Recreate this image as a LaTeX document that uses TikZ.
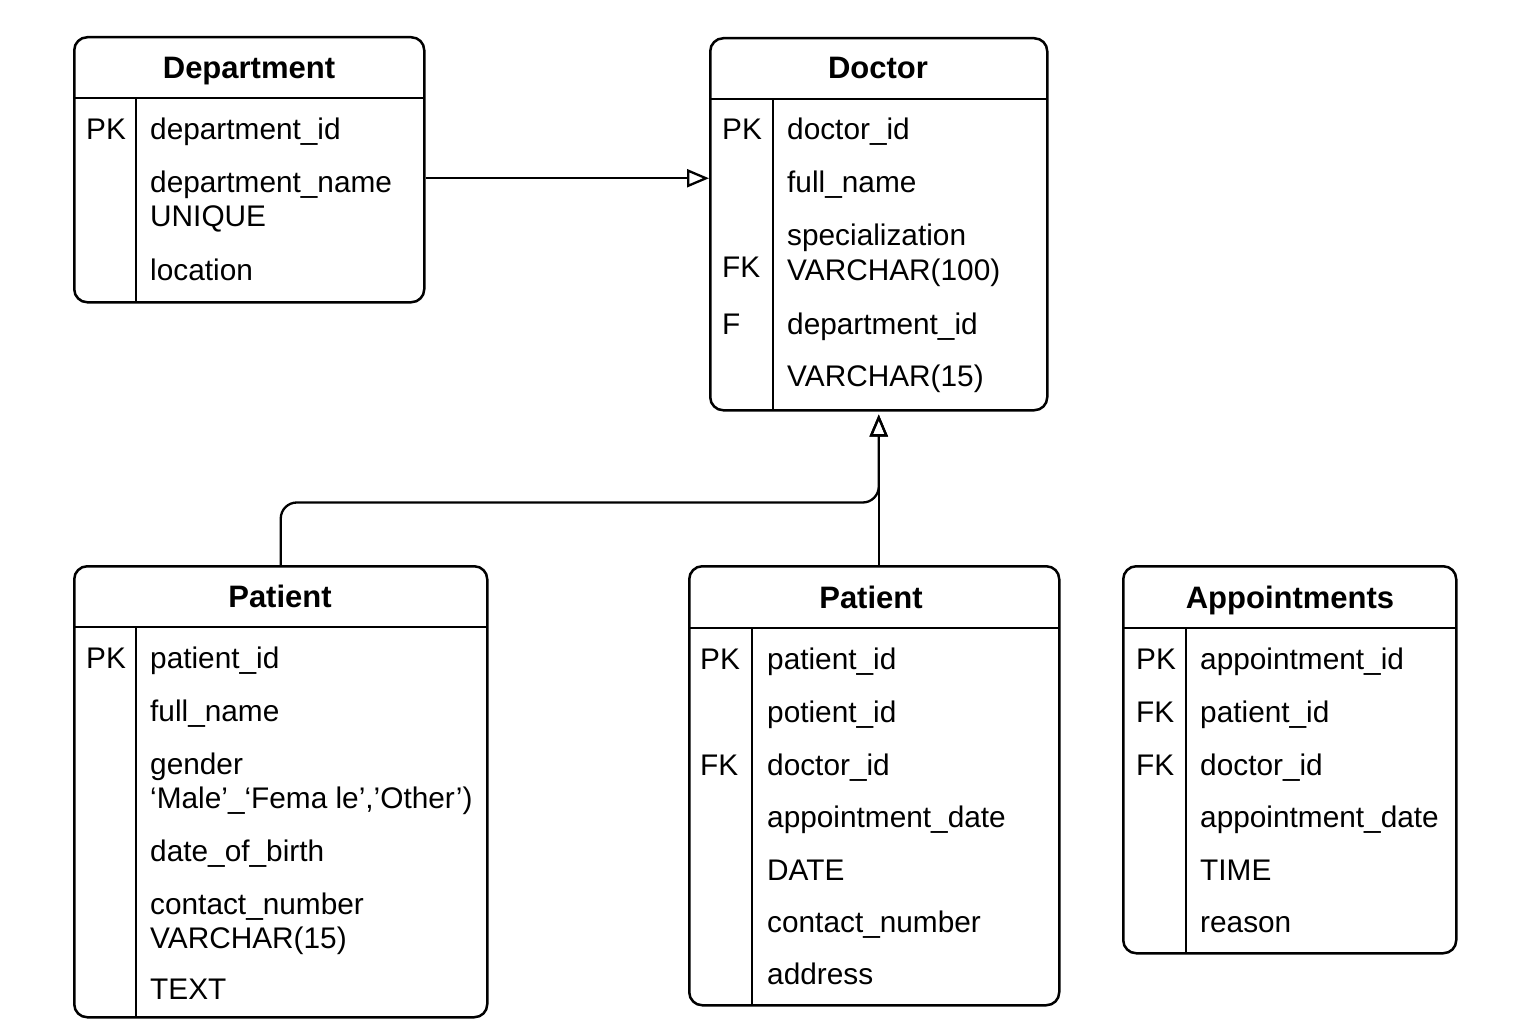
\documentclass[tikz,border=0pt]{standalone}
\usepackage{fontspec}
\setmainfont{Liberation Sans}
\usetikzlibrary{arrows.meta}
\tikzset{
  tbl/.style={draw, line width=2.5pt, rounded corners=13pt, inner sep=0pt, anchor=north west},
  sepline/.style={line width=2.2pt},
  ttl/.style={font=\fontsize{31}{36}\selectfont\bfseries, anchor=base, inner sep=0pt},
  cell/.style={font=\fontsize{29.8}{34}\selectfont, anchor=base west, inner sep=0pt},
  conn/.style={line width=2.3pt, -{Triangle[open, length=22pt, width=18pt, line width=2.3pt]}}
}
\begin{document}
\begin{tikzpicture}[x=1pt,y=-1pt]
\useasboundingbox[fill=white] (0,0) rectangle (1536,1024);

% ---------- Department ----------
\node[tbl, minimum width=350pt, minimum height=265pt] (dep) at (73,36) {};
\draw[sepline] (73,98) -- (423,98);
\draw[sepline] (136,98) -- (136,301);
\node[ttl] (depT) at (249,79) {Department};
\node[cell] (depK1) at (86,140) {PK};
\node[cell] (depR1) at (150,140) {department\_id};
\node[cell] (depR2) at (150,193) {department\_name};
\node[cell] (depR2b) at (150,227) {UNIQUE};
\node[cell] (depR3) at (150,280) {location};

% ---------- Doctor ----------
\node[tbl, minimum width=337pt, minimum height=372pt] (doc) at (709,37) {};
\draw[sepline] (709,99) -- (1046,99);
\draw[sepline] (773,99) -- (773,409);
\node[ttl] (docT) at (878,79) {Doctor};
\node[cell] (docK1) at (722,140) {PK};
\node[cell] (docK3) at (722,277) {FK};
\node[cell] (docK4) at (722,334) {F};
\node[cell] (docR1) at (787,140) {doctor\_id};
\node[cell] (docR2) at (787,193) {full\_name};
\node[cell] (docR3) at (787,246) {specialization};
\node[cell] (docR3b) at (787,280) {VARCHAR(100)};
\node[cell] (docR4) at (787,334) {department\_id};
\node[cell] (docR5) at (787,386) {VARCHAR(15)};

% ---------- Patient (left) ----------
\node[tbl, minimum width=413pt, minimum height=451pt] (pa) at (73,565) {};
\draw[sepline] (73,627) -- (486,627);
\draw[sepline] (136,627) -- (136,1016);
\node[ttl] (paT) at (280,607) {Patient};
\node[cell] (paK1) at (86,668) {PK};
\node[cell] (paR1) at (150,668) {patient\_id};
\node[cell] (paR2) at (150,721) {full\_name};
\node[cell] (paR3) at (150,774) {gender};
\node[cell] (paR3b) at (150,808) {‘Male’\_‘Fema le’,’Other’)};
\node[cell] (paR4) at (150,861) {date\_of\_birth};
\node[cell] (paR5) at (150,914) {contact\_number};
\node[cell] (paR5b) at (150,948) {VARCHAR(15)};
\node[cell] (paR6) at (150,999) {TEXT};

% ---------- Patient (middle) ----------
\node[tbl, minimum width=370pt, minimum height=439pt] (pb) at (688,565) {};
\draw[sepline] (688,628) -- (1058,628);
\draw[sepline] (752,628) -- (752,1004);
\node[ttl] (pbT) at (871,608) {Patient};
\node[cell] (pbK1) at (700,669) {PK};
\node[cell] (pbK3) at (700,775) {FK};
\node[cell] (pbR1) at (767,669) {patient\_id};
\node[cell] (pbR2) at (767,722) {potient\_id};
\node[cell] (pbR3) at (767,775) {doctor\_id};
\node[cell] (pbR4) at (767,827) {appointment\_date};
\node[cell] (pbR5) at (767,880) {DATE};
\node[cell] (pbR6) at (767,932) {contact\_number};
\node[cell] (pbR7) at (767,984) {address};

% ---------- Appointments ----------
\node[tbl, minimum width=333pt, minimum height=387pt] (ap) at (1122,565) {};
\draw[sepline] (1122,628) -- (1455,628);
\draw[sepline] (1186,628) -- (1186,952);
\node[ttl] (apT) at (1290,608) {Appointments};
\node[cell] (apK1) at (1136,669) {PK};
\node[cell] (apK2) at (1136,722) {FK};
\node[cell] (apK3) at (1136,775) {FK};
\node[cell] (apR1) at (1200,669) {appointment\_id};
\node[cell] (apR2) at (1200,722) {patient\_id};
\node[cell] (apR3) at (1200,775) {doctor\_id};
\node[cell] (apR4) at (1200,827) {appointment\_date};
\node[cell] (apR5) at (1200,880) {TIME};
\node[cell] (apR6) at (1200,932) {reason};

% ---------- Connectors ----------
\coordinate (a1) at ([yshift=-8.5pt]dep.east);
\draw[conn] (a1) -- (a1 -| doc.west);
\coordinate (j) at ([yshift=-91pt]doc.south);
\draw[conn, rounded corners=16pt] (pa.north) |- (j) -- ([yshift=-3pt]doc.south);
\draw[conn] (pb.north -| doc.south) -- ([yshift=-3pt]doc.south);
\end{tikzpicture}
\end{document}
